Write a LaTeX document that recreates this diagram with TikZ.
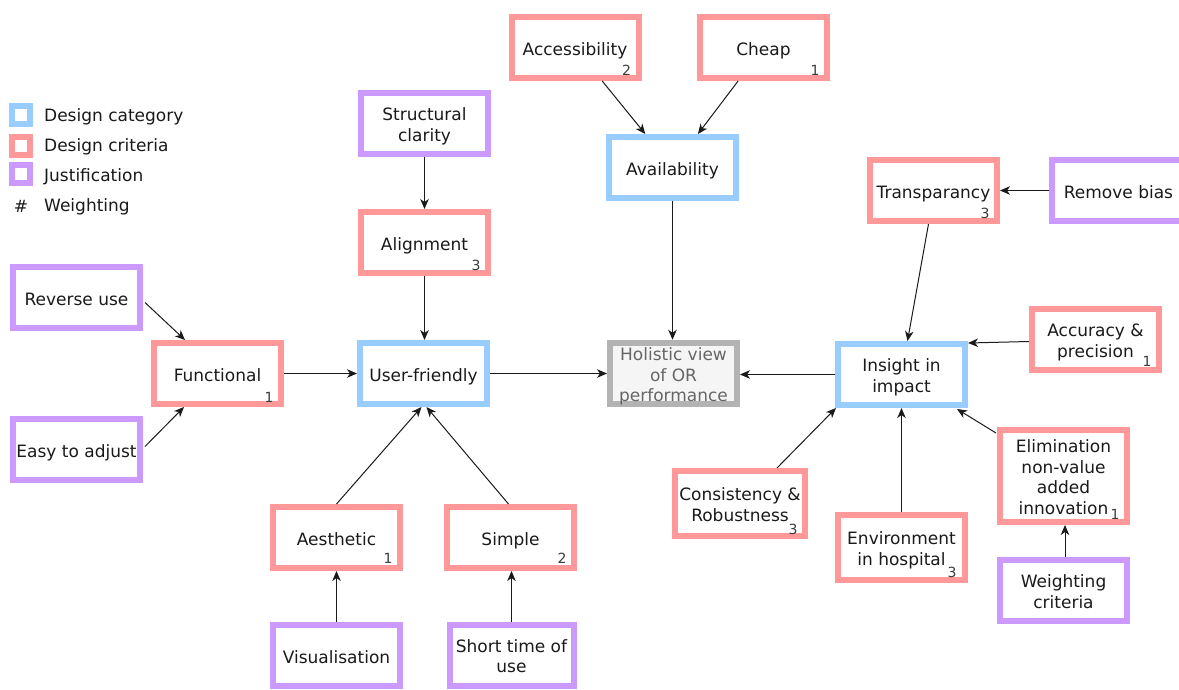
\documentclass[tikz,border=0pt]{standalone}
\usepackage{fontspec}
\setmainfont{DejaVu Sans}
\usetikzlibrary{arrows.meta,calc}
\definecolor{catblue}{HTML}{99CCFF}
\definecolor{critred}{HTML}{FF9999}
\definecolor{justpurple}{HTML}{CC99FF}
\definecolor{goalgray}{HTML}{B3B3B3}
\definecolor{goalfill}{HTML}{F5F5F5}
\definecolor{goaltext}{HTML}{666666}
\definecolor{ink}{HTML}{1A1A1A}
% box text: centred lines, lowered a little inside the frame (size kept)
\newcommand\boxlines[1]{\raisebox{-3.5pt}[\height][\depth]{\begin{tabular}{@{}c@{}}#1\end{tabular}}}
\begin{document}
\begin{tikzpicture}[x=1pt,y=-1pt,
  box/.style={draw, line width=6pt, fill=white, minimum width=127pt, minimum height=61pt,
    inner sep=0pt, text=ink, font=\fontsize{17}{20.5}\selectfont},
  category/.style={box, draw=catblue},
  criterion/.style={box, draw=critred},
  justif/.style={box, draw=justpurple},
  goal/.style={box, draw=goalgray, fill=goalfill, text=goaltext},
  weight/.style={inner sep=0pt, text=ink!85, font=\fontsize{14}{16}\selectfont},
  arr/.style={draw=ink, line width=1pt, -{Stealth[length=10pt,width=8.5pt,inset=3pt]}},
  legbox/.style={draw, line width=5.5pt, fill=white, minimum size=18pt, inner sep=0pt},
  legtext/.style={anchor=west, inner sep=0pt, text=ink, font=\fontsize{17}{20}\selectfont}
]
% canvas
\fill[white] (0,0) rectangle (1179,689);
\useasboundingbox (0,0) rectangle (1179,689);

% legend
\node[legbox, draw=catblue]    (lgcat)  at (21,115) {};
\node[legbox, draw=critred]    (lgcrit) at (21,146) {};
\node[legbox, draw=justpurple] (lgjust) at (21,174) {};
\node[legtext] (ltcat)  at (44,117) {Design category};
\node[legtext] (ltcrit) at (44,147) {Design criteria};
\node[legtext] (ltjust) at (44,177) {Justification};
\node[legtext, anchor=center] (lghash) at (21,206) {\#};
\node[legtext] (ltw) at (44,207) {Weighting};

% availability branch
\node[criterion] (acc)    at (575,47.5)   {\boxlines{Accessibility}};
\node[criterion] (cheap)  at (763.5,47.5) {\boxlines{Cheap}};
\node[category]  (avail)  at (672.5,167.5) {\boxlines{Availability}};

% user-friendly branch
\node[justif]    (struct) at (424.5,123.5) {\boxlines{Structural\\clarity}};
\node[criterion] (align)  at (424.5,242.5) {\boxlines{Alignment}};
\node[justif]    (revuse) at (76.5,297.5)  {\boxlines{Reverse use}};
\node[criterion] (func)   at (217.5,373.5) {\boxlines{Functional}};
\node[justif]    (easy)   at (76.5,449.5)  {\boxlines{Easy to adjust}};
\node[category]  (uf)     at (423.5,373.5) {\boxlines{User-friendly}};
\node[criterion] (aes)    at (336.5,537.5) {\boxlines{Aesthetic}};
\node[criterion] (simp)   at (510.5,537.5) {\boxlines{Simple}};
\node[justif]    (vis)    at (336.5,655.5) {\boxlines{Visualisation}};
\node[justif, minimum width=124pt] (short) at (511.5,655) {\boxlines{Short time of\\use}};

% goal
\node[goal]      (hol)    at (673.5,373.5) {\boxlines{Holistic view\\of OR\\performance}};

% insight branch
\node[category]  (ins)    at (901.5,374.5) {\boxlines{Insight in\\impact}};
\node[criterion] (trans)  at (933.5,190.5) {\boxlines{Transparancy}};
\node[justif, minimum width=133pt] (bias) at (1118.5,190.5) {\boxlines{Remove bias}};
\node[criterion] (accu)   at (1095.5,339.5) {\boxlines{Accuracy \&\\precision}};
\node[criterion, minimum height=92pt] (elim) at (1063.5,476) {\boxlines{Elimination\\non-value\\added\\innovation}};
\node[justif]    (wcrit)  at (1063.5,590.5) {\boxlines{Weighting\\criteria}};
\node[criterion, minimum height=65pt] (env)  at (901.5,547.5) {\boxlines{Environment\\in hospital}};
\node[criterion, minimum width=130pt, minimum height=65pt] (cons) at (740,503.5) {\boxlines{Consistency \&\\Robustness}};

% weightings
\node[weight] (wacc)   at ($(acc.south east)+(-15,-11)$)   {2};
\node[weight] (wcheap) at ($(cheap.south east)+(-15,-11)$) {1};
\node[weight] (walign) at ($(align.south east)+(-15,-11)$) {3};
\node[weight] (wfunc)  at ($(func.south east)+(-15,-10)$)  {1};
\node[weight] (waes)   at ($(aes.south east)+(-15,-13)$)   {1};
\node[weight] (wsimp)  at ($(simp.south east)+(-15,-13)$)  {2};
\node[weight] (wtrans) at ($(trans.south east)+(-15,-11)$) {3};
\node[weight] (waccu)  at ($(accu.south east)+(-15,-12)$)  {1};
\node[weight] (welim)  at ($(elim.south east)+(-15,-11)$)  {1};
\node[weight] (wenv)   at ($(env.south east)+(-16,-11)$)   {3};
\node[weight] (wcons)  at ($(cons.south east)+(-15,-10)$)  {3};

% connectors
\draw[arr] (acc) -- (avail);
\draw[arr] (cheap) -- (avail);
\draw[arr] (avail.south) -- (avail.south |- hol.north);
\draw[arr] (struct) -- (align);
\draw[arr] (align.south) -- (align.south |- uf.north);
\draw[arr] ($(revuse.east)+(2,5)$) -- ($(func.north west)+(34,0)$);
\draw[arr] ($(easy.east)+(2,-3)$) -- ($(func.south west)+(33,0)$);
\draw[arr] (func) -- (uf);
\draw[arr] (uf) -- (hol);
\draw[arr] (aes.north) -- ($(uf.south)+(-2,0)$);
\draw[arr] ($(simp.north)+(-2,0)$) -- ($(uf.south)+(3,0)$);
\draw[arr] (vis) -- (aes);
\draw[arr] (short.north) -- (short.north |- simp.south);
\draw[arr] (ins.west) -- (hol.east |- ins.west);
\draw[arr] ($(trans.south)+(-5,0)$) -- ($(ins.north)+(6,0)$);
\draw[arr] (bias.west |- trans.east) -- (trans.east);
\draw[arr] ($(accu.west)+(0,2)$) -- ($(ins.north east)+(0,2)$);
\draw[arr] ($(cons.north)+(37,0)$) -- ($(ins.south west)+(1,0)$);
\draw[arr] (env.north) -- (env.north |- ins.south);
\draw[arr] ($(elim.north west)+(-1,6)$) -- ($(ins.south east)+(-11,1)$);
\draw[arr] ($(wcrit.north)+(1.5,0)$) -- ($(elim.south)+(1.5,0)$);
\end{tikzpicture}
\end{document}
